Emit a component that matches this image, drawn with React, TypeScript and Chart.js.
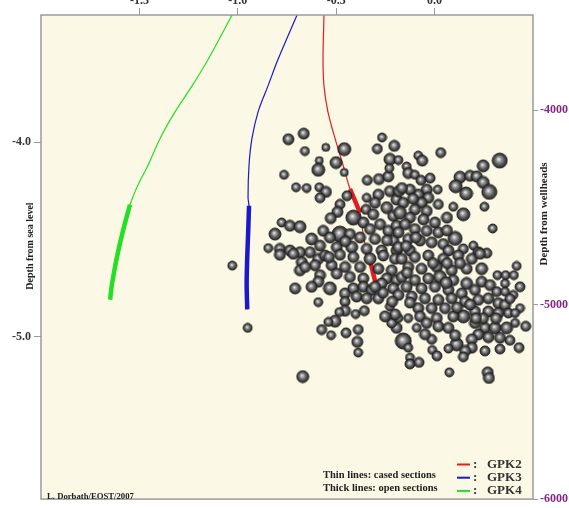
import React, { useEffect, useRef } from 'react';
import { Chart, registerables } from 'chart.js';

Chart.register(...registerables);

// ---- axis ticks ----
const xTicks = [-1500, -1000, -500, 0]; // metres east (labelled in km)
const seaLevelTicks = [-4, -5]; // km below sea level
const wellheadTicks = [-4000, -5000, -6000]; // m below wellheads

// ---- wells (x: m, z: m depth from wellheads) ----
const gpk2X = [-562, -567, -562, -542, -506, -465, -430, -404, -379, -364, -344, -323, -308, -293];
const gpk2Z = [-3510, -3739, -3876, -4008, -4145, -4283, -4405, -4466, -4527, -4628, -4735, -4796, -4857, -4908];
const gpk2Open = [[-4527, -4405], [-4908, -4735]];

const gpk3X = [-699, -796, -847, -897, -928, -943, -948, -943, -947, -952, -955, -952];
const gpk3Z = [-3510, -3739, -3876, -4008, -4145, -4283, -4450, -4491, -4618, -4755, -4892, -5024];
const gpk3Open = [[-5024, -4491]];

const gpk4X = [-1029, -1151, -1233, -1319, -1395, -1456, -1507, -1548, -1583, -1614, -1639, -1649];
const gpk4Z = [-3510, -3739, -3876, -4008, -4145, -4283, -4384, -4486, -4618, -4755, -4892, -4974];
const gpk4Open = [[-4974, -4486]];

// ---- seismic events ----
const quakeX = [
  -743, -665, -659, -553, -459, -267, -291, -205, -227, -586, -501, -591, -765, -459, -704, -650, -586, -552, -582, -342,
  -283, -235, -286, -227, -193, -303, -243, -345, -349, -312, -210, -481, -494, -528, -413, -362, -328, -277, -235, -193,
  -481, -430, -566, -532, -379, -303, -210, -625, -582, -497, -421, -345, -269, -193, -811, -777, -735, -684, -845, -786,
  -735, -684, -633, 31, -83, -63, 331, 247, -142, -134, -100, -69, -184, 129, 180, 214, 247, 107, 160, 278,
  16, -40, -83, -125, -181, 19, 95, 146, 253, 295, -32, -66, -100, -40, -159, -176, -125, -57, 2, -150,
  -100, -40, 19, -184, 104, -134, -74, -15, 44, 197, 146, 222, 265, -184, -125, 70, -786, -718, -592, -557,
  -481, -413, -328, -261, -201, -675, -608, -523, -455, -379, -286, -218, -684, -582, -497, -430, -362, -243, -193, -591,
  -532, -455, -413, -362, -320, -269, -210, -396, -345, -286, -709, -625, -455, -591, -227, -455, -484, -401, -357, -506,
  -540, -574, -526, -450, -388, -393, -388, -670, -193, -218, -167, -100, -32, 44, 120, 189, 231, 239, 417, 319,
  361, 403, -134, -66, 11, 87, 163, 27, -167, -100, -32, 95, 163, 239, 282, 358, -142, -66, 2, 70,
  138, 205, 316, 358, 400, -184, -116, -49, 19, 87, 155, 222, 273, 324, 358, 434, 375, 409, -83, -15,
  53, 146, 95, 205, 273, 324, -184, -134, -74, 11, -40, 19, 70, -91, 205, 256, 307, 366, 409, 463,
  222, 273, 332, 383, 429, -159, -134, -15, -12, 112, 70, 189, 189, 155, 256, 146, -125, -125, -79, 75,
  270, 276, -1028, -950, -230,
  63, 129, -8, -140, 58, -125, 114, 180, 246, 104, -49, -216, -262, -303, -145, -95, 63, 63, -110, -454,
  -445, -537, -658, -242, -166, -23, 210, 312, 332, 12, 434, 383, -201, -252,
];
const quakeZ = [
  -4149, -4120, -4210, -4191, -4200, -4140, -4198, -4183, -4252, -4259, -4269, -4306, -4332, -4320, -4396, -4400, -4396, -4420, -4450, -4360,
  -4354, -4340, -4434, -4416, -4459, -4476, -4501, -4450, -4510, -4535, -4543, -4484, -4523, -4555, -4552, -4577, -4611, -4586, -4620, -4594,
  -4637, -4637, -4620, -4654, -4654, -4662, -4670, -4662, -4696, -4704, -4704, -4713, -4721, -4721, -4637, -4577, -4594, -4599, -4709, -4713,
  -4721, -4730, -4730, -4218, -4233, -4259, -4259, -4286, -4289, -4323, -4332, -4360, -4256, -4344, -4337, -4340, -4371, -4391, -4428, -4420,
  -4408, -4408, -4434, -4408, -4416, -4484, -4496, -4535, -4496, -4608, -4450, -4476, -4510, -4518, -4476, -4527, -4552, -4561, -4577, -4586,
  -4611, -4620, -4628, -4628, -4659, -4662, -4670, -4679, -4688, -4696, -4713, -4730, -4735, -4704, -4721, -4721, -4743, -4738, -4765, -4747,
  -4743, -4755, -4764, -4747, -4764, -4781, -4797, -4797, -4806, -4806, -4815, -4823, -4823, -4848, -4840, -4857, -4865, -4865, -4874, -4882,
  -4916, -4942, -4916, -4908, -4924, -4891, -4916, -4958, -4967, -4967, -4916, -4908, -4984, -4987, -5009, -5031, -5038, -5048, -5031, -5085,
  -5089, -5128, -5157, -5145, -5128, -5191, -5246, -5370, -5119, -5094, -4764, -4755, -4747, -4764, -4747, -4764, -4738, -4815, -4801, -4848,
  -4848, -4848, -4806, -4815, -4806, -4823, -4815, -4857, -4857, -4874, -4865, -4874, -4891, -4882, -4899, -4891, -4908, -4916, -4908, -4924,
  -4942, -4924, -4933, -4933, -4950, -4950, -4958, -4967, -4975, -4967, -4984, -4975, -4967, -4992, -5001, -5018, -5043, -5043, -5018, -5018,
  -5018, -5060, -5060, -5035, -5035, -5043, -5069, -5069, -5060, -5069, -5094, -5111, -5119, -5119, -5094, -5119, -5119, -5119, -5094, -5111,
  -5153, -5167, -5170, -5183, -5221, -5187, -5221, -5178, -5233, -5204, -5226, -5178, -5221, -5238, -5238, -5268, -5272, -5305, -5297, -5348,
  -5348, -5377, -4799, -5119, -4298,
  -4786, -4786, -4786, -4836, -4887, -4989, -5014, -4999, -5070, -5157, -5152, -4984, -4938, -4908, -4699, -4654, -4618, -4552, -4455, -4674,
  -4440, -4755, -4806, -4669, -4400, -4349, -5070, -5070, -5228, -5263, -4908, -4969, -5050, -5060,
];
const quakeMag = [
  1.5, 1.5, 1.0, 0.75, 2.0, 1.0, 1.25, 1.5, 1.75, 0.75, 1.75, 2.0, 1.0, 0.75, 1.0, 1.0, 1.0, 1.5, 1.25, 1.25,
  1.5, 1.5, 1.5, 1.5, 1.5, 1.5, 1.75, 1.0, 1.25, 1.5, 1.5, 1.25, 1.5, 1.5, 2.5, 1.5, 1.5, 1.5, 1.5, 1.5,
  2.75, 1.5, 1.5, 1.5, 1.5, 1.5, 1.5, 1.75, 1.5, 1.5, 1.75, 1.5, 1.5, 1.5, 1.75, 1.0, 1.5, 1.75, 1.0, 1.5,
  1.5, 1.5, 1.5, 1.25, 1.0, 1.5, 2.5, 1.75, 1.0, 1.5, 1.0, 1.25, 1.0, 1.75, 1.5, 1.5, 1.75, 2.0, 2.0, 2.5,
  1.0, 1.5, 1.5, 1.5, 1.5, 1.25, 1.0, 2.0, 1.0, 1.0, 1.5, 1.5, 1.5, 1.5, 1.5, 2.0, 1.5, 1.5, 1.5, 1.5,
  1.5, 1.5, 1.5, 1.5, 2.25, 1.5, 1.5, 1.5, 1.5, 1.0, 1.25, 1.5, 1.25, 1.5, 1.5, 1.5, 1.5, 1.5, 1.5, 1.5,
  1.5, 1.5, 1.75, 1.5, 1.5, 1.5, 1.5, 1.5, 1.5, 1.5, 1.5, 1.5, 1.5, 1.5, 1.5, 1.5, 1.5, 1.5, 1.5, 1.5,
  2.0, 1.5, 1.5, 1.5, 1.5, 1.5, 1.5, 1.5, 1.5, 1.5, 1.5, 1.5, 1.25, 1.0, 1.0, 1.5, 1.0, 1.0, 1.25, 1.75,
  1.0, 1.25, 1.0, 1.25, 1.25, 1.5, 1.0, 1.75, 1.5, 1.25, 1.5, 1.5, 1.5, 1.5, 1.5, 1.5, 1.5, 1.75, 1.0, 1.0,
  1.0, 1.0, 1.5, 1.5, 1.5, 1.5, 1.5, 2.0, 1.5, 1.5, 1.5, 1.5, 1.75, 1.5, 1.5, 1.0, 1.5, 1.5, 1.5, 1.5,
  1.5, 1.5, 1.25, 1.0, 1.0, 1.5, 1.5, 1.5, 1.5, 1.5, 1.5, 1.5, 1.5, 1.5, 1.5, 1.0, 1.25, 1.0, 1.5, 1.5,
  1.5, 2.0, 1.5, 1.5, 1.5, 1.5, 1.0, 1.0, 1.5, 1.5, 1.5, 1.5, 1.5, 1.0, 1.5, 1.5, 1.75, 1.75, 1.0, 1.25,
  1.5, 1.5, 1.5, 1.25, 1.25, 2.75, 1.0, 1.25, 1.0, 2.0, 1.0, 1.5, 1.5, 1.5, 1.25, 1.25, 1.0, 1.25, 1.25, 1.0,
  1.5, 1.5, 1.0, 1.0, 1.0,
  1.5, 1.5, 1.5, 1.5, 1.75, 1.5, 1.5, 1.5, 1.5, 1.5, 1.5, 1.5, 1.5, 1.5, 1.5, 1.5, 1.5, 1.5, 1.5, 1.5,
  1.25, 1.5, 1.5, 1.5, 1.5, 1.25, 1.5, 1.5, 1.25, 1.25, 1.25, 1.25, 1.5, 1.5,
];

const wellNames = ['GPK2', 'GPK3', 'GPK4'];
const wellColors = ['#e41e1e', '#1a1ac8', '#22e022'];

const SERIF = '"Liberation Serif", "Times New Roman", serif';
const PLOT_BG = '#fcf8e6';

function magToRadius(m: number) {
  return 2.4 + 2 * m;
}

const sphereCache = new Map<number, HTMLCanvasElement>();
function sphere(r: number): HTMLCanvasElement {
  const key = Math.round(r * 4) / 4;
  const hit = sphereCache.get(key);
  if (hit) return hit;
  const size = Math.ceil(2 * key + 2);
  const c = document.createElement('canvas');
  c.width = size;
  c.height = size;
  const g = c.getContext('2d')!;
  const cx = size / 2;
  const cy = size / 2;
  const grad = g.createRadialGradient(cx - key * 0.15, cy - key * 0.2, key * 0.04, cx, cy, key);
  grad.addColorStop(0, '#eeeeee');
  grad.addColorStop(0.25, '#a6a6a6');
  grad.addColorStop(0.6, '#5e5e5e');
  grad.addColorStop(1, '#222222');
  g.fillStyle = grad;
  g.beginPath();
  g.arc(cx, cy, key, 0, Math.PI * 2);
  g.fill();
  g.lineWidth = 0.9;
  g.strokeStyle = '#1c1c1c';
  g.stroke();
  sphereCache.set(key, c);
  return c;
}

function pathPoints(xs: number[], zs: number[]) {
  return xs.map((x, i) => ({ x, y: zs[i] }));
}

function openSegments(xs: number[], zs: number[], open: number[][]) {
  return open.map(([lo, hi]) =>
    xs.map((x, i) => ({ x, y: zs[i] })).filter((p) => p.y >= lo && p.y <= hi)
  );
}

const decorPlugin = {
  id: 'decor',
  beforeDraw(chart: any) {
    const { ctx, chartArea: a } = chart;
    ctx.save();
    ctx.fillStyle = '#ffffff';
    ctx.fillRect(0, 0, chart.width, chart.height);
    ctx.fillStyle = PLOT_BG;
    ctx.fillRect(a.left, a.top, a.right - a.left, a.bottom - a.top);
    ctx.restore();
  },
  afterDraw(chart: any) {
    const { ctx, chartArea: a } = chart;
    ctx.save();
    // frame
    ctx.strokeStyle = '#9a9a9a';
    ctx.lineWidth = 1.5;
    ctx.strokeRect(a.left, a.top, a.right - a.left, a.bottom - a.top);

    // axis titles
    ctx.fillStyle = '#222';
    ctx.textAlign = 'center';
    ctx.textBaseline = 'middle';
    ctx.save();
    ctx.translate(30, 246);
    ctx.rotate(-Math.PI / 2);
    ctx.font = `bold 10px ${SERIF}`;
    ctx.fillText('Depth from sea level', 0, 0);
    ctx.restore();
    ctx.save();
    ctx.translate(544, 214);
    ctx.rotate(-Math.PI / 2);
    ctx.font = `bold 11px ${SERIF}`;
    ctx.fillText('Depth from wellheads', 0, 0);
    ctx.restore();

    // legend notes
    ctx.textAlign = 'left';
    ctx.font = `bold 10.5px ${SERIF}`;
    ctx.fillText('Thin lines: cased sections', 323, 475);
    ctx.fillText('Thick lines: open sections', 323, 488);
    wellNames.forEach((name, i) => {
      const y = 464.5 + i * 13.2;
      ctx.strokeStyle = wellColors[i];
      ctx.lineWidth = 2;
      ctx.beginPath();
      ctx.moveTo(457, y);
      ctx.lineTo(470, y);
      ctx.stroke();
      ctx.fillStyle = '#333';
      ctx.font = `bold 13px ${SERIF}`;
      ctx.fillText(':', 473, y);
      ctx.fillText(name, 487, y);
    });

    // credit
    ctx.fillStyle = '#222';
    ctx.font = `bold 8.7px ${SERIF}`;
    ctx.fillText('L. Dorbath/EOST/2007', 47, 497);
    ctx.restore();
  },
};

export default function App() {
  const ref = useRef<HTMLCanvasElement>(null);

  useEffect(() => {
    const wells = [
      { x: gpk2X, z: gpk2Z, open: gpk2Open },
      { x: gpk3X, z: gpk3Z, open: gpk3Open },
      { x: gpk4X, z: gpk4Z, open: gpk4Open },
    ];
    const datasets: any[] = [];
    datasets.push({
      label: 'Events',
      data: quakeX.map((x, i) => ({ x, y: quakeZ[i] })),
      yAxisID: 'yR',
      order: 0,
      showLine: false,
      pointStyle: (c: any) => sphere(magToRadius(quakeMag[c.dataIndex] ?? 1.5)),
      pointRadius: (c: any) => magToRadius(quakeMag[c.dataIndex] ?? 1.5),
      pointHoverRadius: (c: any) => magToRadius(quakeMag[c.dataIndex] ?? 1.5),
    });
    wells.forEach((w, i) => {
      datasets.push({
        label: wellNames[i] + ' cased',
        data: pathPoints(w.x, w.z),
        yAxisID: 'yR',
        order: 3,
        showLine: true,
        borderColor: wellColors[i],
        borderWidth: 1.2,
        pointRadius: 0,
        tension: 0.3,
      });
      openSegments(w.x, w.z, w.open).forEach((seg, k) => {
        datasets.push({
          label: wellNames[i] + ' open ' + k,
          data: seg,
          yAxisID: 'yR',
          order: 2,
          showLine: true,
          borderColor: wellColors[i],
          borderWidth: 4.5,
          borderCapStyle: 'butt',
          pointRadius: 0,
          tension: 0.3,
        });
      });
    });

    const tickFont = { family: SERIF, size: 12, weight: 'bold' as const };

    const chart = new Chart(ref.current!, {
      type: 'scatter',
      data: { datasets },
      plugins: [decorPlugin],
      options: {
        animation: false,
        responsive: false,
        devicePixelRatio: 1,
        events: [],
        layout: { padding: { top: 0, left: 0, right: 0, bottom: 3 } },
        plugins: { legend: { display: false }, tooltip: { enabled: false } },
        scales: {
          x: {
            type: 'linear',
            position: 'top',
            min: -2000,
            max: 500,
            afterBuildTicks: (s: any) => {
              s.ticks = xTicks.map((v) => ({ value: v }));
            },
            ticks: {
              autoSkip: false,
              maxRotation: 0,
              padding: 0,
              color: '#333',
              font: tickFont,
              callback: (v: any) => (Number(v) / 1000).toFixed(1),
            },
            grid: { drawOnChartArea: false, drawTicks: true, tickLength: 7, color: '#9a9a9a' },
            border: { display: false },
            afterFit: (s: any) => {
              s.height = 15;
              s.paddingLeft = 0;
              s.paddingRight = 0;
            },
          },
          yL: {
            type: 'linear',
            position: 'left',
            min: -5.836,
            max: -3.346,
            afterBuildTicks: (s: any) => {
              s.ticks = seaLevelTicks.map((v) => ({ value: v }));
            },
            ticks: {
              autoSkip: false,
              padding: 3,
              color: '#333',
              font: tickFont,
              callback: (v: any) => Number(v).toFixed(1),
            },
            grid: { drawOnChartArea: false, drawTicks: true, tickLength: 7, color: '#9a9a9a' },
            border: { display: false },
            afterFit: (s: any) => {
              s.width = 41;
              s.paddingTop = 0;
              s.paddingBottom = 0;
            },
          },
          yR: {
            type: 'linear',
            position: 'right',
            min: -6000,
            max: -3510,
            afterBuildTicks: (s: any) => {
              s.ticks = wellheadTicks.map((v) => ({ value: v }));
            },
            ticks: {
              autoSkip: false,
              padding: 2,
              color: '#82287f',
              font: tickFont,
              callback: (v: any) => String(v),
            },
            grid: { drawOnChartArea: false, drawTicks: true, tickLength: 5, color: '#9a9a9a' },
            border: { display: false },
            afterFit: (s: any) => {
              s.width = 36;
              s.paddingTop = 0;
              s.paddingBottom = 0;
            },
          },
        },
      } as any,
    });
    return () => chart.destroy();
  }, []);

  return (
    <div style={{ position: 'absolute', left: 0, top: 0, width: 569, height: 508, background: '#fff' }}>
      <canvas ref={ref} width={569} height={508} style={{ display: 'block', width: 569, height: 508 }} />
    </div>
  );
}
